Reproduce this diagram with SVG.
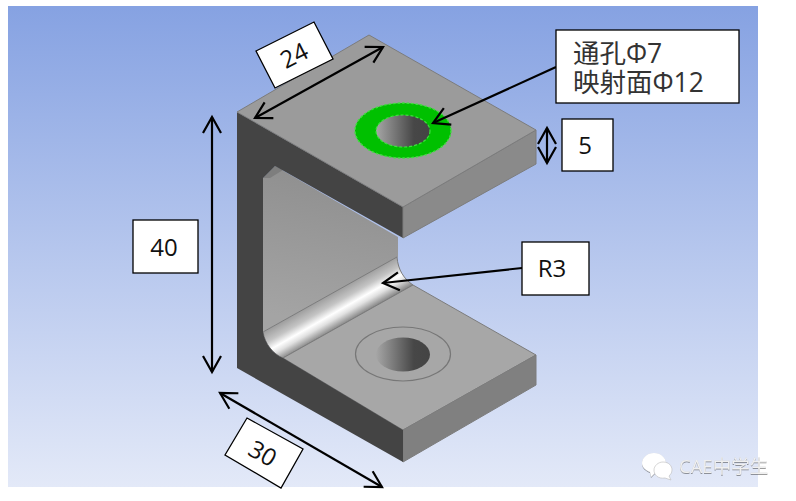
<svg xmlns="http://www.w3.org/2000/svg" width="796" height="501" viewBox="0 0 796 501">
<defs>
<linearGradient id="bg" x1="0" y1="0" x2="0" y2="1"><stop offset="0" stop-color="#86a2e2"/><stop offset="1" stop-color="#e3e9f8"/></linearGradient>
<linearGradient id="web" gradientUnits="userSpaceOnUse" x1="330" y1="170" x2="300" y2="320"><stop offset="0" stop-color="#8f8f8f"/><stop offset="1" stop-color="#a4a4a4"/></linearGradient>
<linearGradient id="fil" gradientUnits="userSpaceOnUse" x1="330" y1="295" x2="346" y2="323"><stop offset="0" stop-color="#a0a0a0"/><stop offset=".3" stop-color="#c4c4c4"/><stop offset=".55" stop-color="#fff"/><stop offset=".72" stop-color="#e0e0e0"/><stop offset="1" stop-color="#858585"/></linearGradient>
<linearGradient id="hole" x1="0" y1="0" x2="1" y2="0"><stop offset="0" stop-color="#a6a6a6"/><stop offset=".7" stop-color="#474747"/><stop offset="1" stop-color="#444"/></linearGradient>
<marker id="ah" markerUnits="userSpaceOnUse" markerWidth="40" markerHeight="40" viewBox="-20 -20 40 40" refX="0" refY="0" orient="auto-start-reverse" overflow="visible"><path d="M-16,-9 L0,0 L-16,9" fill="none" stroke="#000" stroke-width="2.2"/></marker>
<filter id="sh" x="-10%" y="-20%" width="120%" height="140%"><feDropShadow dx="0" dy="0.6" stdDeviation="0.4" flood-color="#333" flood-opacity=".8"/></filter>
</defs>
<style>
.e{stroke:#7c7c7c;stroke-width:1;stroke-linejoin:round}
.b{fill:#fff;stroke:#000;stroke-width:1.3}
.t{font-family:"Open Sans","Liberation Sans","Noto Sans CJK SC",sans-serif;font-size:24px;fill:#111;text-anchor:middle}
.c{font-family:"Open Sans","Noto Sans CJK SC",sans-serif;font-size:26.500px;fill:#333}
.a{fill:none;stroke:#000;stroke-width:2.2;marker-start:url(#ah);marker-end:url(#ah)}
.l{fill:none;stroke:#000;stroke-width:2.2;marker-end:url(#ah)}
</style>
<rect x="8" y="6" width="750" height="481" fill="url(#bg)"/>
<g id="part">
<path d="M263,178 L275,166 L398,237 L398,257 L263,332Z" fill="url(#web)"/>
<path d="M263,178 L275,166 L283,170 L270,178Z" fill="#7e7e7e"/>
<path d="M263,332 L397,257 C398,270 404,279 413,285 L283,358 C273,354 265,344 263,332Z" fill="url(#fil)" class="e"/>
<path d="M283,358 L413,285 L536,355 L403,430Z" fill="#a7a7a7" class="e"/>
<path d="M403,430 L536,355 L536,385 L403,462Z" fill="#808080" class="e"/>
<path d="M237,112 L403,207 L403,238 L275,166 L263,178 L263,332 C265,344 273,354 283,358 L403,430 L403,462 L237,368Z" fill="#444"/>
<path d="M403,207 L536,130 L536,164 L403,238Z" fill="#8a8a8a" class="e"/>
<path d="M237,112 L369,35 L536,130 L403,207Z" fill="#9b9b9b" class="e"/>
<ellipse cx="403" cy="130.500" rx="48" ry="27.500" fill="#00c000" stroke="#3ee03e" stroke-width="1.400" stroke-dasharray="2.500 2"/>
<ellipse cx="403" cy="131" rx="27" ry="16" fill="url(#hole)" stroke="#3ee03e" stroke-width="1.200" stroke-dasharray="3 2"/>
<ellipse cx="403" cy="354" rx="47.500" ry="27" fill="none" stroke="#777" stroke-width="1.200"/>
<ellipse cx="403" cy="354.500" rx="27" ry="17" fill="url(#hole)"/>
</g>
<g id="connectors">
<path class="a" d="M255,118 L383,47"/>
<path class="a" d="M212,117 L212,372"/>
<path class="a" d="M220,393 L382,487"/>
<path class="a" d="M547,128 L547,163"/>
<path class="l" d="M556,67 L433,123"/>
<path class="l" d="M522,268 L383,283"/>
</g>
<g id="label-24"><path class="b" d="M256,51 L314,22 L333,59 L275,88Z"/><text class="t" transform="translate(294,55) rotate(-27)" y="9">24</text></g>
<g id="label-30"><path class="b" d="M247,418 L303,449 L281,488 L225,455Z"/><text class="t" transform="translate(263,453) rotate(30)" y="9">30</text></g>
<g id="label-40"><rect class="b" x="133" y="220" width="65" height="53"/><text class="t" x="164" y="256">40</text></g>
<g id="label-5"><rect class="b" x="562" y="119" width="51" height="52"/><text class="t" x="585" y="154">5</text></g>
<g id="label-r3"><rect class="b" x="522" y="242" width="67" height="53"/><text class="t" x="552" y="277">R3</text></g>
<g id="label-hole"><rect class="b" x="556" y="30" width="183" height="73"/><text class="c"><tspan x="573" y="63">通孔Φ7</tspan><tspan x="573" y="92">映射面Φ12</tspan></text></g>
<g id="watermark">
<path d="M654,453 C661,453 666,458 666,463 C666,468 661,473 655,473 L651,477 L650,472 C645,470 642,467 642,463 C642,458 647,453 654,453Z" fill="#fff" filter="url(#sh)"/>
<path d="M663,462 C669,462 672,466 672,470 C672,473 670,475 669,476 L671,480 L665,478 C658,479 654,475 654,470 C654,466 658,462 663,462Z" fill="#fff" stroke="#bbb" stroke-width=".6"/>
<text x="679" y="473" filter="url(#sh)" style="font-family:'Open Sans','Noto Sans CJK SC',sans-serif;font-size:18.500px;fill:#f0f0f0">CAE中学生</text>
</g>
</svg>
